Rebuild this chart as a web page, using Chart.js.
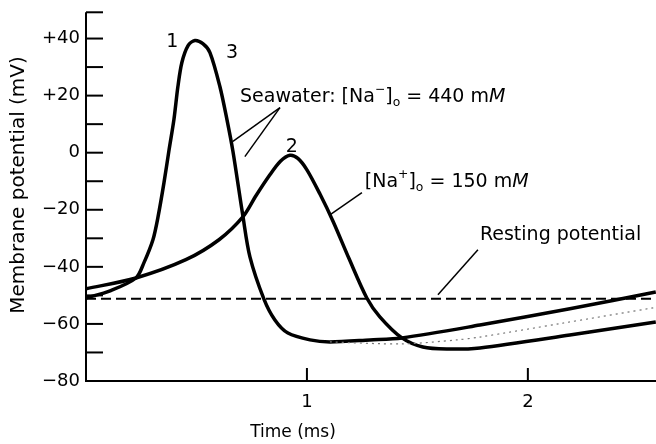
<!DOCTYPE html>
<html>
<head>
<meta charset="utf-8">
<script src="https://cdn.jsdelivr.net/npm/chart.js"></script>
<style>
  html, body { margin: 0; padding: 0; background: #fff; }
  #wrap { width: 656px; height: 444px; }
</style>
</head>
<body>
<div id="wrap"><canvas id="apChart" width="656" height="444"></canvas></div>
<script>
// curve 1 (seawater, 440 mM Na)
const seaTime = [0, 0.109, 0.226, 0.262, 0.303, 0.326, 0.353, 0.376, 0.398, 0.416, 0.434, 0.462, 0.493, 0.529, 0.561, 0.606, 0.638, 0.665, 0.710, 0.742, 0.805, 0.855, 0.914, 1.014, 1.104, 1.285, 1.43, 1.783, 2.19, 2.579];
const seaVolt = [-50.9, -48.4, -43.9, -38.6, -30.5, -22.5, -10.5, 1.0, 11.6, 23.2, 31.6, 37.5, 39.3, 38.2, 35.1, 23.2, 11.6, 0.5, -22.1, -36.5, -51.2, -58.6, -63.2, -65.6, -66.3, -65.6, -64.9, -60.4, -54.7, -48.8];

// curve 2 (150 mM Na)
const lowTime = [0, 0.226, 0.452, 0.602, 0.710, 0.77, 0.83, 0.88, 0.923, 0.959, 1.0, 1.059, 1.118, 1.19, 1.271, 1.33, 1.43, 1.525, 1.633, 1.783, 2.19, 2.579];
const lowVolt = [-47.7, -43.9, -37.5, -30.5, -22.5, -15.0, -8.0, -3.0, -0.9, -2.0, -6.0, -14.5, -24.0, -37.0, -50.9, -57.5, -64.9, -68.1, -68.8, -68.4, -63.9, -59.3];

// curve 3 (back in seawater) - only the faint tail separates from curve 1
const recTime = [1.104, 1.43, 1.679, 1.783, 2.145, 2.579];
const recVolt = [-66.3, -67.0, -65.6, -64.6, -59.9, -54.2];

const restTime = [0, 2.58];
const restVolt = [-51.2, -51.2];

const yTickValues = [40, 20, 0, -20, -40, -60, -80];
const yTickLabels = ['+40', '+20', '0', '\u221220', '\u221240', '\u221260', '\u221280'];
const xTickValues = [1, 2];
const xTickLabels = ['1', '2'];

const FONT = '"DejaVu Sans", "Liberation Sans", Arial, sans-serif';

function pts(xs, ys) {
  return xs.map((x, i) => ({ x: x, y: ys[i] }));
}

// draw text made of normal / superscript / subscript / italic runs
function drawRich(ctx, x, y, parts, size) {
  let cx = x;
  parts.forEach(p => {
    let s = size, dy = 0, style = '';
    if (p.sup) { s = size * 0.65; dy = -size * 0.45; }
    if (p.sub) { s = size * 0.65; dy = size * 0.25; }
    if (p.it) style = 'italic ';
    ctx.font = style + s + 'px ' + FONT;
    ctx.fillText(p.t, cx, y + dy);
    cx += ctx.measureText(p.t).width;
  });
}

const axesPlugin = {
  id: 'axesPlugin',
  afterDraw(chart) {
    const ctx = chart.ctx;
    const xs = chart.scales.x, ys = chart.scales.y;
    const area = chart.chartArea;
    ctx.save();
    ctx.strokeStyle = '#000';
    ctx.fillStyle = '#000';
    ctx.lineWidth = 2;

    // axis lines
    ctx.beginPath();
    ctx.moveTo(area.left, ys.getPixelForValue(49.2));
    ctx.lineTo(area.left, area.bottom);
    ctx.lineTo(area.right, area.bottom);
    ctx.stroke();

    // inner y ticks every 10 mV
    for (let v = -70; v <= 49; v += 10) {
      const py = ys.getPixelForValue(v);
      ctx.beginPath();
      ctx.moveTo(area.left, py);
      ctx.lineTo(area.left + 17, py);
      ctx.stroke();
    }
    const topY = ys.getPixelForValue(49.2);
    ctx.beginPath();
    ctx.moveTo(area.left, topY);
    ctx.lineTo(area.left + 17, topY);
    ctx.stroke();

    // y tick labels
    ctx.font = '18px ' + FONT;
    ctx.textAlign = 'right';
    ctx.textBaseline = 'middle';
    yTickValues.forEach((v, i) => {
      ctx.fillText(yTickLabels[i], area.left - 6, ys.getPixelForValue(v));
    });

    // x ticks (pointing up) and labels
    ctx.textAlign = 'center';
    xTickValues.forEach((v, i) => {
      const px = xs.getPixelForValue(v);
      ctx.beginPath();
      ctx.moveTo(px, area.bottom);
      ctx.lineTo(px, area.bottom - 13);
      ctx.stroke();
      ctx.fillText(xTickLabels[i], px, area.bottom + 21);
    });

    // axis titles
    ctx.font = '17px ' + FONT;
    ctx.fillText('Time (ms)', 293, 433);
    ctx.save();
    ctx.translate(19, 185);
    ctx.rotate(-Math.PI / 2);
    ctx.font = '20px ' + FONT;
    ctx.fillText('Membrane potential (mV)', 0, 0);
    ctx.restore();

    // pointer lines
    const X = v => xs.getPixelForValue(v), Y = v => ys.getPixelForValue(v);
    ctx.lineWidth = 1.5;
    const seg = (x1, y1, x2, y2) => {
      ctx.beginPath();
      ctx.moveTo(X(x1), Y(y1));
      ctx.lineTo(X(x2), Y(y2));
      ctx.stroke();
    };
    seg(0.878, 15.8, 0.665, 4.0);
    seg(0.878, 15.8, 0.719, -1.4);
    seg(1.249, -14.0, 1.104, -21.8);
    seg(1.774, -34.0, 1.593, -49.8);

    // curve numbers
    ctx.font = '19px ' + FONT;
    ctx.textBaseline = 'alphabetic';
    ctx.textAlign = 'center';
    ctx.fillText('1', X(0.391), Y(37.2));
    ctx.fillText('3', X(0.661), Y(33.3));
    ctx.fillText('2', X(0.932), Y(0.35));

    // labels
    ctx.textAlign = 'left';
    drawRich(ctx, X(0.697), Y(17.9), [
      { t: 'Seawater: [Na' }, { t: '\u2212', sup: true }, { t: ']' }, { t: 'o', sub: true },
      { t: ' = 440 m' }, { t: 'M', it: true }
    ], 19);
    drawRich(ctx, X(1.262), Y(-11.9), [
      { t: '[Na' }, { t: '+', sup: true }, { t: ']' }, { t: 'o', sub: true },
      { t: ' = 150 m' }, { t: 'M', it: true }
    ], 19);
    drawRich(ctx, X(1.783), Y(-30.5), [{ t: 'Resting potential' }], 19);

    ctx.restore();
  }
};

new Chart(document.getElementById('apChart'), {
  type: 'line',
  data: {
    datasets: [
      {
        label: 'Resting potential',
        data: pts(restTime, restVolt),
        borderColor: '#000',
        borderWidth: 2,
        borderDash: [10, 5],
        pointRadius: 0
      },
      {
        label: '3',
        data: pts(recTime, recVolt),
        borderColor: '#777',
        borderWidth: 1.2,
        borderDash: [2, 4],
        pointRadius: 0,
        tension: 0.3
      },
      {
        label: '2: [Na+]o = 150 mM',
        data: pts(lowTime, lowVolt),
        borderColor: '#000',
        borderWidth: 3.5,
        pointRadius: 0,
        tension: 0.3
      },
      {
        label: '1: Seawater',
        data: pts(seaTime, seaVolt),
        borderColor: '#000',
        borderWidth: 3.5,
        pointRadius: 0,
        tension: 0.3
      }
    ]
  },
  options: {
    responsive: false,
    animation: false,
    layout: { padding: { left: 86, right: 0, top: 10, bottom: 63 } },
    plugins: { legend: { display: false }, tooltip: { enabled: false } },
    scales: {
      x: { type: 'linear', min: 0, max: 2.58, display: false },
      y: { type: 'linear', min: -80, max: 50, display: false }
    }
  },
  plugins: [axesPlugin]
});
</script>
</body>
</html>
